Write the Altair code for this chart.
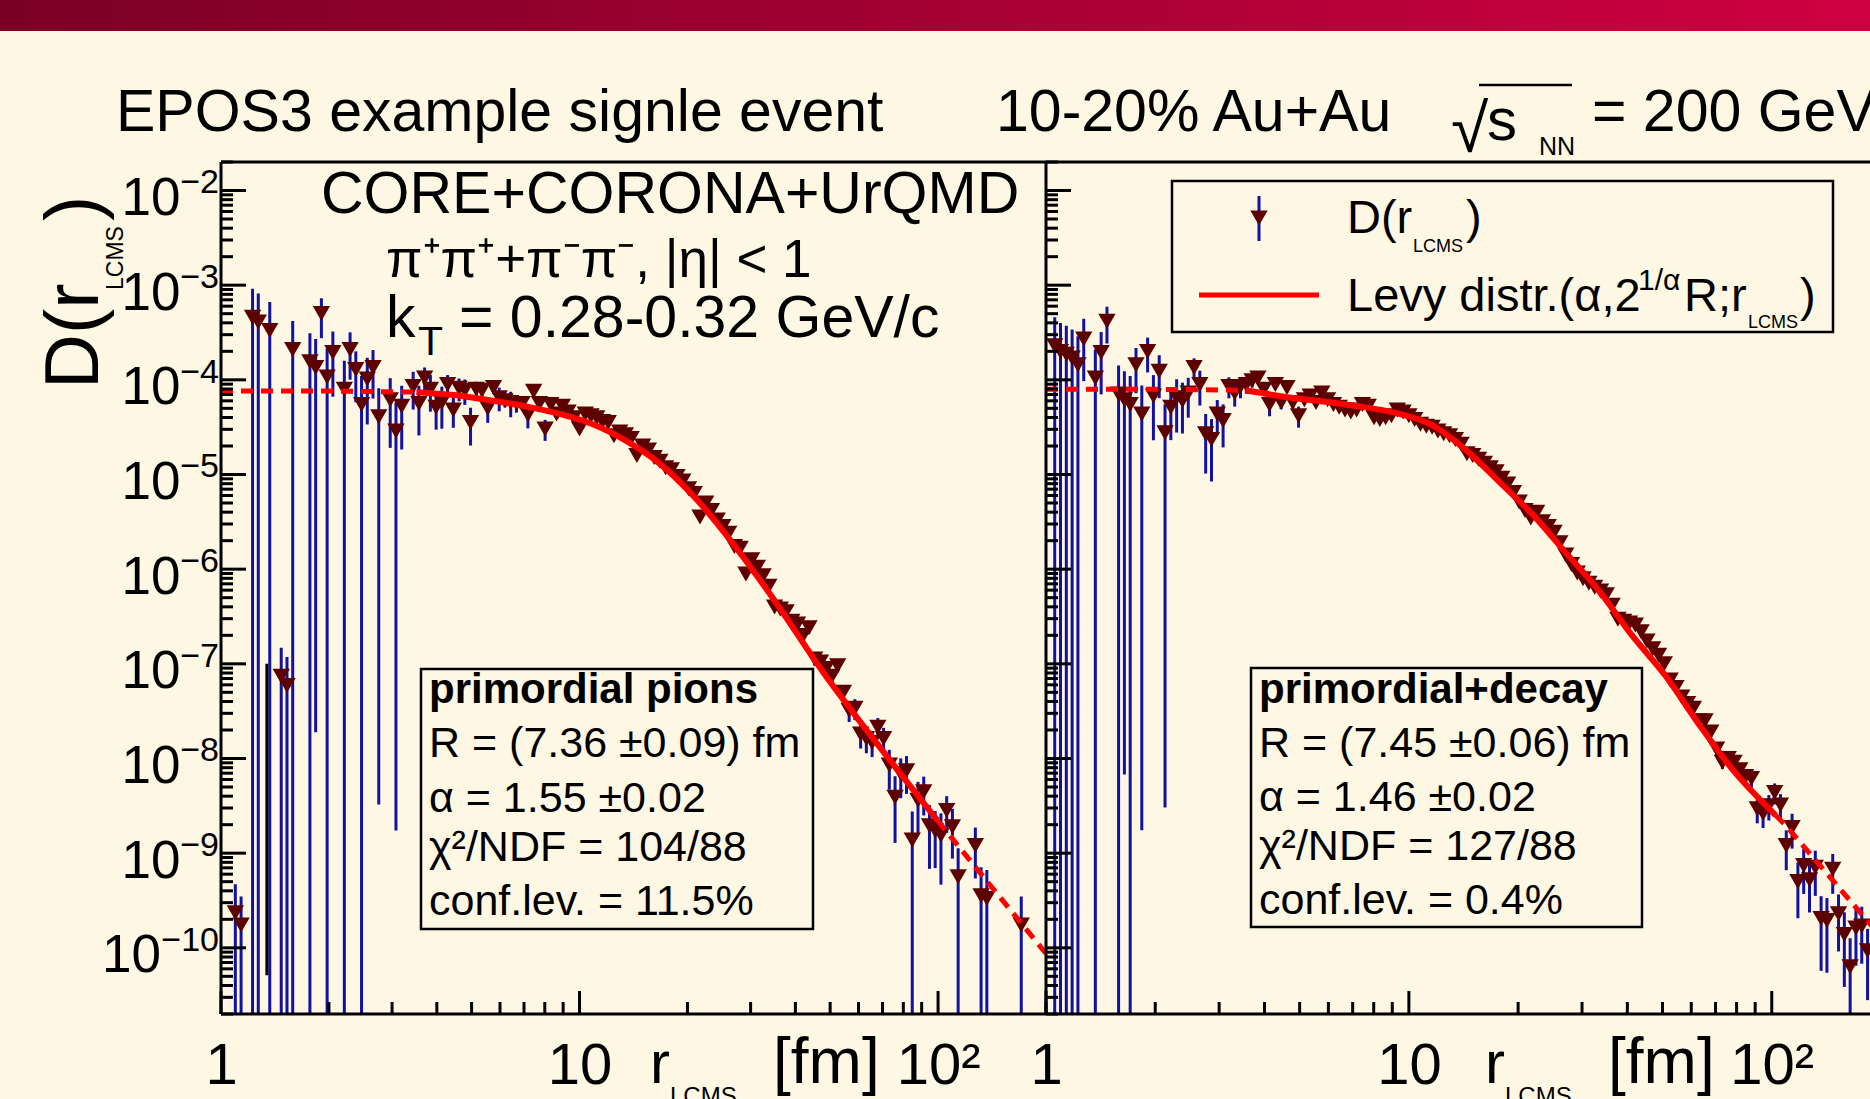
import altair as alt
import pandas as pd
import numpy as np

# ---------------------------------------------------------------- data
# left panel: primordial pions  (log10 r_LCMS, log10 D, relative error)
left_logr = [0.040, 0.056, 0.088, 0.104, 0.136, 0.168, 0.184, 0.200, 0.248, 0.264, 0.280, 0.296, 0.312,
             0.344, 0.360, 0.376, 0.392, 0.408, 0.424, 0.440,
             0.472, 0.488, 0.504,
             0.536, 0.552, 0.568, 0.584, 0.600, 0.616, 0.632, 0.648,
             0.664, 0.680, 0.696, 0.712, 0.728, 0.744, 0.760, 0.776, 0.792, 0.808,
             0.824, 0.840, 0.856, 0.872, 0.888, 0.904, 0.920, 0.936, 0.952, 0.968,
             0.984, 1.000, 1.016, 1.032, 1.048, 1.064, 1.080, 1.096, 1.112, 1.128,
             1.144, 1.160, 1.176, 1.192, 1.208, 1.224, 1.240, 1.256, 1.272, 1.288,
             1.304, 1.320, 1.336, 1.352, 1.368, 1.384, 1.400, 1.416, 1.432, 1.448,
             1.464, 1.480, 1.496, 1.512, 1.528, 1.544, 1.560, 1.576, 1.592, 1.608,
             1.624, 1.640, 1.656, 1.672, 1.688, 1.704, 1.720, 1.736, 1.752, 1.768,
             1.784, 1.800, 1.816, 1.832, 1.848, 1.864, 1.880, 1.896, 1.912, 1.928,
             1.944, 1.960, 1.976, 1.992, 2.008, 2.024, 2.040, 2.056,
             2.104, 2.120, 2.136, 2.232]
left_logD = [-9.63, -9.76, -3.34, -3.39, -3.48, -7.13, -7.23, -3.68, -3.81, -3.87, -3.30, -3.97, -3.71,
             -4.10, -3.68, -3.89, -4.26, -3.99, -3.87, -4.39,
             -4.21, -4.54, -4.28,
             -4.07, -4.25, -3.98, -4.10, -4.29, -4.24, -4.05, -4.32,
             -4.09, -4.11, -4.45, -4.10, -4.11, -4.30, -4.08, -4.19, -4.22, -4.24,
             -4.25, -4.25, -4.37, -4.12, -4.25, -4.52, -4.26, -4.36, -4.28, -4.34,
             -4.40, -4.52, -4.36, -4.38, -4.40, -4.44, -4.45, -4.59, -4.55, -4.58,
             -4.62, -4.80, -4.70, -4.74, -4.82, -4.86, -4.93, -4.95, -5.02, -5.07,
             -5.15, -5.20, -5.45, -5.30, -5.38, -5.48, -5.55, -5.62, -5.76, -5.78,
             -6.05, -5.90, -5.98, -6.07, -6.18, -6.40, -6.42, -6.45, -6.55, -6.58,
             -6.70, -6.62, -6.95, -6.98, -7.05, -7.13, -7.02, -7.30, -7.49, -7.47,
             -7.74, -7.79, -7.83, -7.67, -7.79, -8.07, -8.41, -8.16, -8.13, -8.86,
             -8.44, -8.35, -8.71, -8.76, -8.81, -8.55, -8.72, -9.25,
             -8.92, -9.45, -9.48, -9.76]
left_err = [1, 1, 1, 1, 1, 1, 1, 1, 1, 0.99986, 0.45, 1, 0.66,
            1, 0.52, 0.55, 1, 0.67, 0.53, 0.99992,
            0.69, 0.99994, 0.65,
            0.43, 0.54, 0.29, 0.42, 0.42, 0.47, 0.26, 0.35,
            0.27, 0.30, 0.43, 0.20, 0.20, 0.30, 0.15, 0.28, 0.15, 0.30,
            0.20, 0.15, 0.28, 0.12, 0.12, 0.25, 0.10, 0.10, 0.10, 0.10,
            0.10, 0.10, 0.08, 0.08, 0.08, 0.08, 0.08, 0.08, 0.07, 0.07,
            0.07, 0.07, 0.07, 0.07, 0.07, 0.07, 0.07, 0.07, 0.07, 0.07,
            0.08, 0.08, 0.08, 0.08, 0.08, 0.08, 0.08, 0.09, 0.09, 0.09,
            0.10, 0.10, 0.10, 0.10, 0.11, 0.12, 0.12, 0.12, 0.12, 0.13,
            0.14, 0.13, 0.15, 0.15, 0.16, 0.16, 0.15, 0.18, 0.25, 0.25,
            0.30, 0.30, 0.30, 0.25, 0.30, 0.45, 0.67, 0.45, 0.43, 1,
            0.56, 0.44, 0.65, 0.60, 0.70, 0.42, 0.54, 1,
            0.55, 1, 1, 1]
# the single black error bar near r = 1.34 fm (log10 r, log10 low, log10 high)
left_black_bar = [0.128, -10.29, -7.0]

# right panel: primordial + decay
right_logr = [0.024, 0.040, 0.056, 0.072, 0.088, 0.104, 0.136, 0.152, 0.168, 0.200, 0.216, 0.232, 0.248,
              0.264, 0.280, 0.296, 0.312, 0.328,
              0.344, 0.360, 0.376, 0.392, 0.408, 0.424, 0.440, 0.456, 0.472, 0.488,
              0.504, 0.520, 0.536, 0.552, 0.568, 0.584, 0.600, 0.616, 0.632, 0.648,
              0.664, 0.680, 0.696, 0.712, 0.728, 0.744, 0.760, 0.776, 0.792, 0.808,
              0.824, 0.840, 0.856, 0.872, 0.888, 0.904, 0.920, 0.936, 0.952, 0.968,
              0.984, 1.000, 1.016, 1.032, 1.048, 1.064, 1.080, 1.096, 1.112, 1.128,
              1.144, 1.160, 1.176, 1.192, 1.208, 1.224, 1.240, 1.256, 1.272, 1.288,
              1.304, 1.320, 1.336, 1.352, 1.368, 1.384, 1.400, 1.416, 1.432, 1.448,
              1.464, 1.480, 1.496, 1.512, 1.528, 1.544, 1.560, 1.576, 1.592, 1.608,
              1.624, 1.640, 1.656, 1.672, 1.688, 1.704, 1.720, 1.736, 1.752, 1.768,
              1.784, 1.800, 1.816, 1.832, 1.848, 1.864, 1.880, 1.896, 1.912, 1.928,
              1.944, 1.960, 1.976, 1.992, 2.008, 2.024, 2.040, 2.056, 2.072, 2.088,
              2.104, 2.120, 2.136, 2.152, 2.168, 2.184, 2.200, 2.216, 2.232, 2.248, 2.264]
right_logD = [-3.64, -3.70, -3.73, -3.77, -3.84, -3.57, -3.98, -3.71, -3.38, -4.15, -4.21, -4.26, -3.84,
              -4.36, -3.70, -4.17, -3.91, -4.56,
              -4.29, -4.19, -4.22, -4.14, -3.87, -4.05, -4.57, -4.63, -4.36, -4.43,
              -4.07, -4.14, -4.07, -4.05, -4.01, -3.98, -4.10, -4.26, -4.05, -4.24,
              -4.08, -4.24, -4.38, -4.21, -4.17, -4.24, -4.14, -4.21, -4.26, -4.29,
              -4.32, -4.34, -4.32, -4.26, -4.28, -4.40, -4.42, -4.40, -4.38, -4.32,
              -4.34, -4.38, -4.42, -4.47, -4.49, -4.50, -4.54, -4.57, -4.59, -4.63,
              -4.68, -4.78, -4.80, -4.84, -4.88, -4.93, -4.97, -5.04, -5.10, -5.19,
              -5.29, -5.38, -5.46, -5.40, -5.50, -5.55, -5.61, -5.72, -5.85, -5.95,
              -6.04, -6.10, -6.15, -6.19, -6.23, -6.27, -6.38, -6.53, -6.55, -6.57,
              -6.59, -6.66, -6.76, -6.84, -6.91, -7.00, -7.17, -7.25, -7.35, -7.42,
              -7.47, -7.60, -7.60, -7.72, -7.90, -8.04, -8.00, -8.04, -8.12, -8.19,
              -8.21, -8.53, -8.58, -8.50, -8.36, -8.49, -8.92, -8.73, -9.30, -9.13,
              -9.28, -9.15, -9.69, -9.71, -9.17, -9.64, -9.86, -10.20, -9.79, -9.77, -10.03]
right_err = [1, 1, 1, 1, 1, 0.64, 1, 0.64, 0.42, 1, 0.99989, 1, 0.50,
             0.99996, 0.40, 0.66, 0.48, 0.99989,
             0.55, 0.57, 0.55, 0.45, 0.25, 0.40, 0.62, 0.64, 0.40, 0.48,
             0.25, 0.28, 0.25, 0.20, 0.15, 0.12, 0.12, 0.25, 0.12, 0.15,
             0.12, 0.12, 0.25, 0.10, 0.10, 0.10, 0.10, 0.10, 0.10, 0.10,
             0.10, 0.10, 0.08, 0.08, 0.08, 0.08, 0.08, 0.08, 0.08, 0.07,
             0.07, 0.07, 0.07, 0.07, 0.07, 0.07, 0.07, 0.06, 0.06, 0.06,
             0.06, 0.06, 0.06, 0.06, 0.06, 0.06, 0.06, 0.06, 0.06, 0.06,
             0.06, 0.06, 0.06, 0.06, 0.06, 0.06, 0.06, 0.06, 0.07, 0.07,
             0.07, 0.07, 0.07, 0.07, 0.07, 0.07, 0.08, 0.08, 0.08, 0.08,
             0.08, 0.08, 0.09, 0.09, 0.09, 0.09, 0.10, 0.10, 0.10, 0.10,
             0.10, 0.12, 0.12, 0.12, 0.14, 0.15, 0.15, 0.15, 0.15, 0.20,
             0.20, 0.30, 0.30, 0.30, 0.25, 0.30, 0.45, 0.40, 0.59, 0.50,
             0.55, 0.50, 0.72, 0.72, 0.45, 0.60, 0.72, 1, 0.60, 0.60, 0.70]

# Levy fit curves (log10 r, log10 D); segment "s" = solid (inside fit range)
fitL_logr = [0.0, 0.30, 0.545, 0.545, 0.65, 0.74, 0.85, 0.944, 1.037, 1.13, 1.214, 1.33, 1.436, 1.538, 1.678, 1.859, 1.998, 1.998, 2.15, 2.301]
fitL_logD = [-4.117, -4.118, -4.13, -4.13, -4.16, -4.21, -4.28, -4.36, -4.47, -4.645, -4.856, -5.278, -5.77, -6.30, -7.08, -7.985, -8.653, -8.653, -9.36, -10.06]
fitL_seg = ["d1", "d1", "d1", "s", "s", "s", "s", "s", "s", "s", "s", "s", "s", "s", "s", "s", "s", "d2", "d2", "d2"]

fitR_logr = [0.0, 0.30, 0.55, 0.55, 0.642, 0.825, 0.974, 1.065, 1.157, 1.249, 1.340, 1.432, 1.524, 1.615, 1.707, 1.799, 1.890, 2.010, 2.010, 2.037, 2.266, 2.301]
fitR_logD = [-4.10, -4.10, -4.11, -4.11, -4.17, -4.26, -4.36, -4.48, -4.74, -5.078, -5.419, -5.825, -6.23, -6.70, -7.126, -7.637, -8.107, -8.597, -8.597, -8.70, -9.727, -9.88]
fitR_seg = ["d1", "d1", "d1", "s", "s", "s", "s", "s", "s", "s", "s", "s", "s", "s", "s", "s", "s", "s", "d2", "d2", "d2", "d2"]

y_decades = [1e-2, 1e-3, 1e-4, 1e-5, 1e-6, 1e-7, 1e-8, 1e-9, 1e-10]
y_exponents = ["\u22122", "\u22123", "\u22124", "\u22125", "\u22126", "\u22127", "\u22128", "\u22129", "\u221210"]
x_decades = [1, 10, 100]

stats_left = ["R = (7.36 \u00b10.09) fm", "\u03b1 = 1.55 \u00b10.02", "\u03c7\u00b2/NDF = 104/88", "conf.lev. = 11.5%"]
stats_right = ["R = (7.45 \u00b10.06) fm", "\u03b1 = 1.46 \u00b10.02", "\u03c7\u00b2/NDF = 127/88", "conf.lev. = 0.4%"]

# ---------------------------------------------------------------- style
BG = "#fef7e4"
FONT = "Liberation Sans"
MARK = "#5c0000"
BAR = "#1212a0"
W, H = 1649, 852
XL_RANGE = [0, 825]
XR_RANGE = [825, 1660]
YMIN, YMAX = 2e-11, 2e-2
MSIZE = 300


def points_frame(logr, logD, err):
    r = np.power(10.0, np.array(logr))
    D = np.power(10.0, np.array(logD))
    e = np.array(err, dtype=float)
    lo = np.maximum(D * (1 - e), 1e-13)
    hi = D * (1 + e)
    return pd.DataFrame({"r": r, "D": D, "lo": lo, "hi": hi})


def fit_frame(logr, logD, seg):
    return pd.DataFrame({"r": np.power(10.0, np.array(logr)),
                         "D": np.power(10.0, np.array(logD)),
                         "seg": seg})


dfL = points_frame(left_logr, left_logD, left_err)
dfR = points_frame(right_logr, right_logD, right_err)
fL = fit_frame(fitL_logr, fitL_logD, fitL_seg)
fR = fit_frame(fitR_logr, fitR_logD, fitR_seg)
blk = pd.DataFrame({"r": [10 ** left_black_bar[0]], "lo": [10 ** left_black_bar[1]], "hi": [10 ** left_black_bar[2]]})

yscale = alt.Scale(type="log", domain=[YMIN, YMAX])
# mantissa "10" of the y labels (the exponent is drawn as a separate, smaller text;
# the 10^-10 mantissa is drawn separately because its exponent is wider)
yax = alt.Axis(values=y_decades, labelExpr="datum.value < 5e-10 ? '' : '10'", ticks=False, tickSize=0,
               domain=False, grid=False, title=None, labelFont=FONT, labelFontSize=53, labelColor="black",
               labelPadding=41, labelAlign="right", labelBaseline="alphabetic", labelOffset=24,
               labelOverlap=False, labelBound=False)


def xaxis():
    return alt.Axis(values=x_decades, orient="bottom",
                    labelExpr="datum.value >= 100 ? '10\u00b2' : (datum.value >= 10 ? '10' : '1')",
                    ticks=False, tickSize=0, domain=False, grid=False, title=None, labelFont=FONT,
                    labelFontSize=58, labelColor="black", labelPadding=69, labelBaseline="alphabetic",
                    labelOverlap=False, labelFlush=False, labelBound=False)


def panel(df, fit, xrange, with_black=False):
    xs = alt.Scale(type="log", domain=[1, 200], range=xrange)
    xa = xaxis()
    base = alt.Chart(df)
    bars = base.mark_rule(color=BAR, strokeWidth=3, clip=True).encode(
        x=alt.X("r:Q", scale=xs, axis=xa), y=alt.Y("lo:Q", scale=yscale, axis=yax), y2="hi:Q")
    pts = base.mark_point(shape="triangle-down", filled=True, size=MSIZE, color=MARK, opacity=1,
                          strokeWidth=0, clip=True).encode(
        x=alt.X("r:Q", scale=xs, axis=xa), y=alt.Y("D:Q", scale=yscale, axis=yax))
    solid = alt.Chart(fit[fit.seg == "s"]).mark_line(color="#ff0000", strokeWidth=6, clip=True,
                                                      interpolate="monotone").encode(
        x=alt.X("r:Q", scale=xs, axis=xa), y=alt.Y("D:Q", scale=yscale, axis=yax))
    dashed = alt.Chart(fit[fit.seg != "s"]).mark_line(color="#ff0000", strokeWidth=5, strokeDash=[12, 8],
                                                       clip=True).encode(
        x=alt.X("r:Q", scale=xs, axis=xa), y=alt.Y("D:Q", scale=yscale, axis=yax), detail="seg:N")
    minors = [m * d for d in [1, 10, 100] for m in range(2, 10) if m * d <= 200]
    xt_major = alt.Chart(pd.DataFrame({"v": x_decades})).mark_rule(color="black", strokeWidth=3).encode(
        x=alt.X("v:Q", scale=xs, axis=xa), y=alt.value(H), y2=alt.value(H - 23))
    xt_minor = alt.Chart(pd.DataFrame({"v": minors})).mark_rule(color="black", strokeWidth=3).encode(
        x=alt.X("v:Q", scale=xs, axis=xa), y=alt.value(H), y2=alt.value(H - 12))
    layers = [bars]
    if with_black:
        layers.append(alt.Chart(blk).mark_rule(color="black", strokeWidth=3, clip=True).encode(
            x=alt.X("r:Q", scale=xs, axis=xa), y=alt.Y("lo:Q", scale=yscale, axis=yax), y2="hi:Q"))
    layers += [pts, dashed, solid, xt_major, xt_minor]
    return alt.layer(*layers)


one = pd.DataFrame({"a": [0]})


def T(text, x, y, size, angle=0, weight="normal", align="left", baseline="alphabetic", color="black", font=FONT):
    return alt.Chart(one).mark_text(text=text, fontSize=size, font=font, align=align, baseline=baseline,
                                    angle=angle, fontWeight=weight, color=color).encode(
        x=alt.value(x), y=alt.value(y))


def hline(x1, x2, y, w=3, color="black"):
    return alt.Chart(one).mark_rule(color=color, strokeWidth=w).encode(x=alt.value(x1), x2=alt.value(x2), y=alt.value(y))


def vline(x, y1, y2, w=3, color="black"):
    return alt.Chart(one).mark_rule(color=color, strokeWidth=w).encode(x=alt.value(x), y=alt.value(y1), y2=alt.value(y2))


def box(x1, x2, y1, y2):
    return alt.Chart(one).mark_rect(fill=BG, stroke="black", strokeWidth=2.5).encode(
        x=alt.value(x1), x2=alt.value(x2), y=alt.value(y1), y2=alt.value(y2))


# y ticks (inward) for both panels
y_minor = [m * d for d in [1e-11] + y_decades + [1e-1] for m in range(2, 10) if YMIN <= m * d <= YMAX]


def yticks(x0):
    maj = alt.Chart(pd.DataFrame({"v": y_decades})).mark_rule(color="black", strokeWidth=3).encode(
        y=alt.Y("v:Q", scale=yscale, axis=yax), x=alt.value(x0), x2=alt.value(x0 + 25))
    mnr = alt.Chart(pd.DataFrame({"v": y_minor})).mark_rule(color="black", strokeWidth=3).encode(
        y=alt.Y("v:Q", scale=yscale, axis=yax), x=alt.value(x0), x2=alt.value(x0 + 12))
    return [maj, mnr]


# exponents of the y tick labels
yexp = alt.Chart(pd.DataFrame({"v": y_decades, "e": y_exponents})).mark_text(
    font=FONT, fontSize=34, align="right", baseline="alphabetic", dy=3, color="black").encode(
    y=alt.Y("v:Q", scale=yscale, axis=yax), x=alt.value(-2), text="e:N")
# mantissa of the 10^-10 label
ymant10 = alt.Chart(pd.DataFrame({"v": y_decades[-1:]})).mark_text(
    font=FONT, fontSize=53, align="right", baseline="alphabetic", dy=24, color="black", text="10").encode(
    y=alt.Y("v:Q", scale=yscale, axis=yax), x=alt.value(-60))

left = panel(dfL, fL, XL_RANGE, with_black=True)
right = panel(dfR, fR, XR_RANGE)

banner = alt.Chart(one).mark_rect(fill=alt.LinearGradient(
    gradient="linear", x1=0, x2=1, y1=0, y2=0,
    stops=[alt.GradientStop(color="#7a0026", offset=0), alt.GradientStop(color="#cf0042", offset=1)])).encode(
    x=alt.value(-221), x2=alt.value(W), y=alt.value(-162), y2=alt.value(-131))

deco = [banner, yexp, ymant10]
deco += yticks(0) + yticks(825)
deco += [hline(0, W, 0), hline(0, W, H), vline(0, 0, H), vline(825, 0, H)]
# titles
deco += [T("EPOS3 example signle event", -105, -31, 59), T("10-20% Au+Au", 775, -31, 59),
         T("\u221a", 1230, -10, 68), hline(1258, 1351, -77, 2.5), T("s", 1266, -22, 60), T("NN", 1318, -7, 25),
         T("= 200 GeV", 1371, -31, 59)]
# left panel labels
deco += [T("CORE+CORONA+UrQMD", 100, 51, 59),
         T("\u03c0\u207a\u03c0\u207a+\u03c0\u207b\u03c0\u207b, |\u03b7| < 1", 165, 115, 53),
         T("k", 165, 175, 59), T("T", 197, 193, 41), T("= 0.28-0.32 GeV/c", 238, 175, 59)]
# y title
deco += [T("D(r", -123, 227, 76, angle=270), T("LCMS", -98, 128, 23, angle=270), T(")", -123, 59, 76, angle=270)]
# x titles
for x0 in [429, 1264]:
    deco += [T("r", x0, 921, 60), T("LCMS", x0 + 20, 942, 24), T("[fm]", x0 + 123, 921, 64)]
# stat boxes
for (bx1, bx2, by1, by2, tx, head, lines, bases) in [
        (200, 592, 507, 767, 208, "primordial pions", stats_left, [595, 650, 699, 753]),
        (1030, 1421, 506, 765, 1038, "primordial+decay", stats_right, [595, 649, 698, 752])]:
    deco.append(box(bx1, bx2, by1, by2))
    deco.append(T(head, tx, 541, 42, weight="bold"))
    for s, b in zip(lines, bases):
        deco.append(T(s, tx, b, 43))
# legend
deco += [box(951, 1612, 19, 170),
         vline(1038, 34, 79, 3, BAR),
         alt.Chart(one).mark_point(shape="triangle-down", filled=True, size=MSIZE, color=MARK, opacity=1).encode(
             x=alt.value(1038), y=alt.value(56)),
         T("D(r", 1126, 71, 47), T("LCMS", 1192, 90, 18), T(")", 1245, 71, 47),
         hline(978, 1098, 133, 5, "#ff0000"),
         T("Levy distr.(\u03b1,2", 1126, 149, 47), T("1/\u03b1", 1417, 128, 30), T("R;r", 1463, 149, 47),
         T("LCMS", 1527, 166, 18), T(")", 1579, 149, 47)]

chart = alt.layer(left, right, *deco).resolve_scale(x="independent").resolve_axis(x="independent").properties(
    width=W, height=H,
    autosize=alt.AutoSizeParams(type="none"),
    padding={"left": 221, "top": 162, "right": 0, "bottom": 85},
    background=BG,
).configure_view(stroke=None)

chart.save("out.html", embed_options={"renderer": "svg", "actions": False})
